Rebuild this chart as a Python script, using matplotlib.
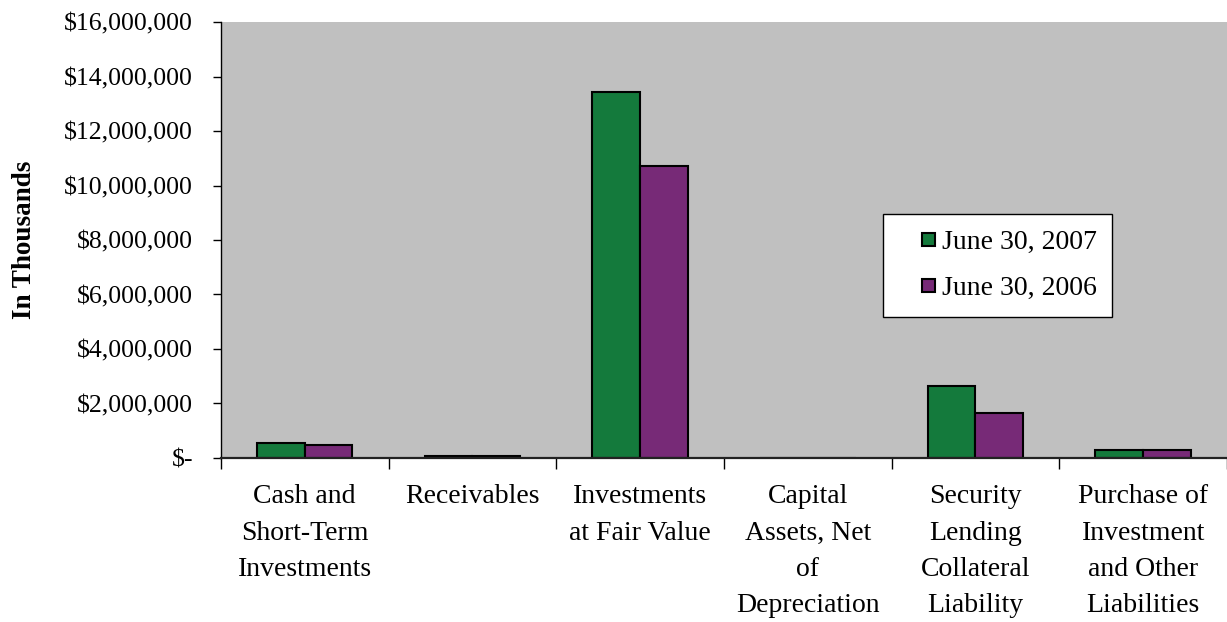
import matplotlib
matplotlib.use('Agg')
import matplotlib.pyplot as plt
import numpy as np
from matplotlib.ticker import FuncFormatter
from matplotlib.patches import Rectangle
from matplotlib.legend_handler import HandlerPatch

categories = ['Cash and\nShort-Term\nInvestments', 'Receivables', 'Investments\nat Fair Value',
              'Capital\nAssets, Net\nof\nDepreciation', 'Security\nLending\nCollateral\nLiability',
              'Purchase of\nInvestment\nand Other\nLiabilities']
series_labels = ['June 30, 2007', 'June 30, 2006']
vals_2007 = [545000, 85000, 13430000, 0, 2640000, 290000]
vals_2006 = [480000, 80000, 10720000, 0, 1650000, 285000]
yticks = [0, 2000000, 4000000, 6000000, 8000000, 10000000, 12000000, 14000000, 16000000]
colors = ['#147A3C', '#772A77']

plt.rcParams['font.family'] = ['Liberation Serif', 'DejaVu Serif']

fig = plt.figure(figsize=(12.27, 6.22), dpi=100)
ax = fig.add_axes([0.180, 0.2637, 0.82, 0.7009])
ax.set_facecolor('#C0C0C0')

x = np.arange(len(categories))
w = 0.285
ax.bar(x - w / 2, vals_2007, w, color=colors[0], edgecolor='black', lw=1.5)
ax.bar(x + w / 2, vals_2006, w, color=colors[1], edgecolor='black', lw=1.5)

ax.set_xlim(-0.5, len(categories) - 0.5)
ax.set_ylim(0, 16000000)
ax.set_yticks(yticks)
ax.yaxis.set_major_formatter(FuncFormatter(lambda v, p: '$-' if v == 0 else '${:,.0f}'.format(v)))
ax.tick_params(axis='y', direction='out', length=6, width=1, labelsize=18.5, pad=14)

ax.set_xticks(x)
ax.set_xticklabels(categories, fontsize=20, linespacing=1.59, va='top')
ax.set_xticks(np.arange(-0.5, len(categories)), minor=True)
ax.tick_params(axis='x', which='major', length=0, pad=19)
ax.tick_params(axis='x', which='minor', length=8, width=1, direction='out')

for s in ['top', 'right']:
    ax.spines[s].set_visible(False)
ax.spines['left'].set_linewidth(1)
ax.spines['bottom'].set_linewidth(1.6)
ax.spines['bottom'].set_color('#222222')

ax.set_ylabel('In Thousands', fontsize=19.5, fontweight='bold')
ax.yaxis.set_label_coords(-0.183, 0.5)


# small square drawn at the right end of the handle slot
def square(legend, orig_handle, xdescent, ydescent, width, height, fontsize):
    s = 0.47 * fontsize
    return Rectangle((-xdescent + width - s, -ydescent + (height - s) / 2), s, s)


proxies = [Rectangle((0, 0), 1, 1, facecolor=c, edgecolor='black', lw=1.5) for c in colors]
leg = ax.legend(proxies, series_labels, loc='upper left', bbox_to_anchor=(0.658, 0.5596), fontsize=20,
                frameon=True, fancybox=False, edgecolor='black', framealpha=1,
                handlelength=1.3, handletextpad=0.25, borderpad=0.56, labelspacing=0.75,
                borderaxespad=0, handler_map={Rectangle: HandlerPatch(patch_func=square)})
leg.get_frame().set_linewidth(1)

fig.savefig('out.png', dpi=100)
